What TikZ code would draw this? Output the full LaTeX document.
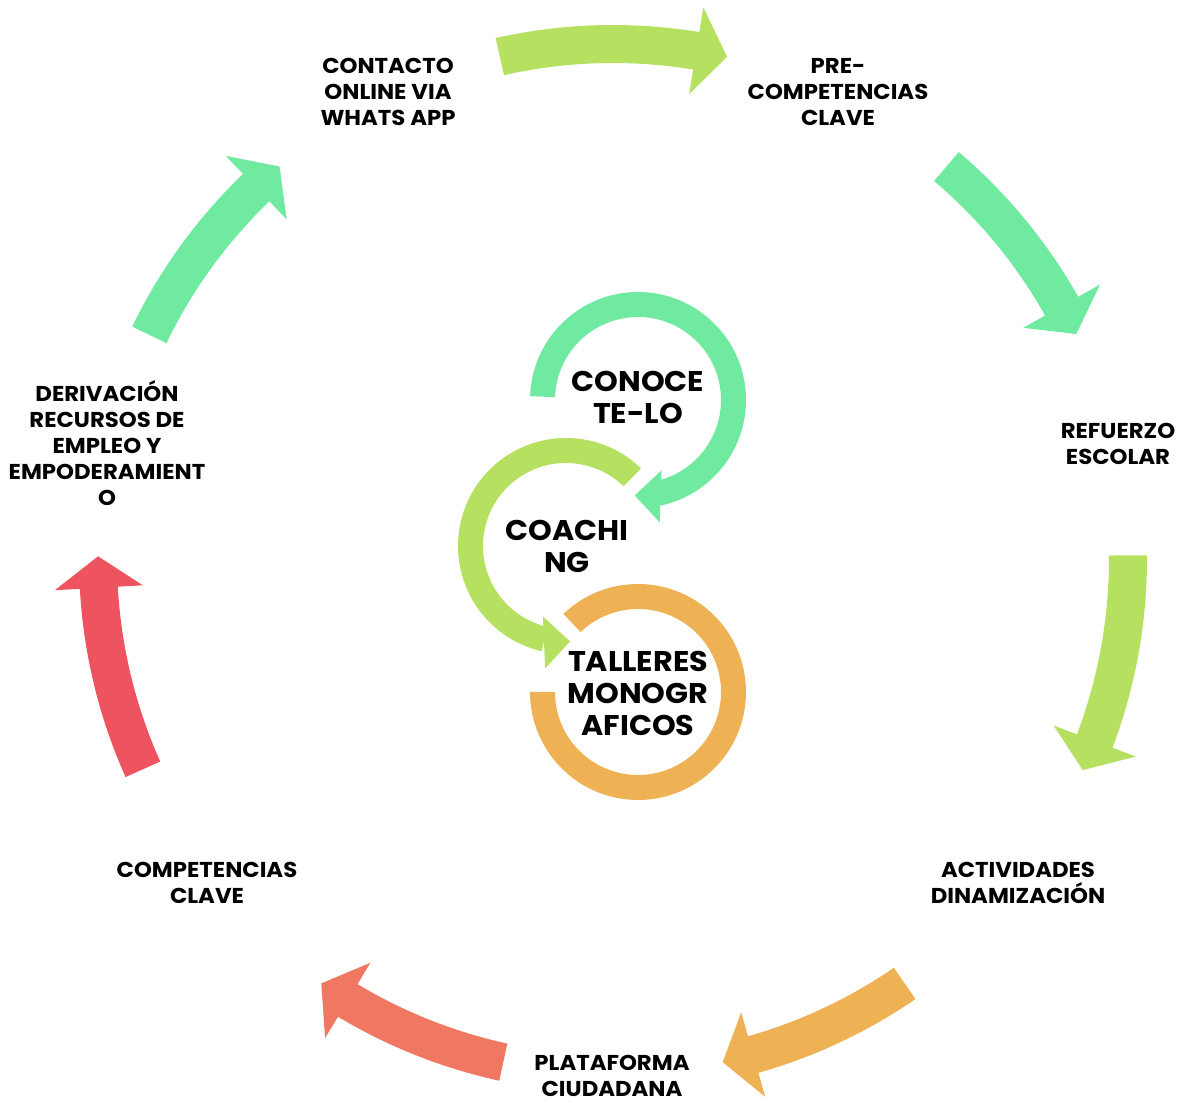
\documentclass[tikz,border=0pt]{standalone}
\usepackage{fontspec}
\setmainfont{Poppins}[FakeStretch=1.06]
\definecolor{cgreen}{RGB}{112,234,160}
\definecolor{cygreen}{RGB}{182,224,96}
\definecolor{corange}{RGB}{238,178,84}
\definecolor{csalmon}{RGB}{240,120,98}
\definecolor{cred}{RGB}{238,83,96}
\newcommand\outerarrow[3]{%
  \fill[#1] (#2:534) arc[start angle=#2, end angle={#3+3.5}, radius=534bp]
    -- ({#3+3.5}:559) -- (#3:515) -- ({#3+3.5}:471) -- ({#3+3.5}:496)
    arc[start angle={#3+3.5}, end angle=#2, radius=496bp] -- cycle;}
\tikzset{
  lbl/.style={align=center, inner sep=0pt, font=\fontsize{21.5bp}{26bp}\selectfont\bfseries},
  clbl/.style={align=center, inner sep=0pt, font=\fontsize{28.5bp}{32bp}\selectfont\bfseries}
}
\begin{document}
\begin{tikzpicture}[x=1bp, y=1bp]
\path[use as bounding box] (0,0) rectangle (1181,1103);
% outer cycle arrows
\begin{scope}[shift={(613,544)}]
  \coordinate (C) at (0,0);
  \outerarrow{cygreen}{102.7}{77.2}
  \outerarrow{cgreen}{49.65}{25.9}
  \outerarrow{cygreen}{0.4}{-24.2}
  \outerarrow{corange}{-55.5}{-77.7}
  \outerarrow{csalmon}{-102.3}{-124.5}
  \outerarrow{cred}{204.1}{179.7}
  \outerarrow{cgreen}{154.2}{130.35}
\end{scope}
% ring 1 (green, clockwise)
\begin{scope}[shift={(638,703)}]
  \fill[cgreen] (178:108) arc[start angle=178, end angle=-78, radius=108bp]
    -- (-78:83) arc[start angle=-78, end angle=178, radius=83bp] -- cycle;
  \fill[cgreen] (21.74,-122.33) -- (-3.33,-95.44) -- (23.56,-70.37) -- cycle;
\end{scope}
% ring 2 (yellow-green, counterclockwise)
\begin{scope}[shift={(566,557)}]
  \fill[cygreen] (46:108) arc[start angle=46, end angle=257, radius=108bp]
    -- (257:83) arc[start angle=257, end angle=46, radius=83bp] -- cycle;
  \fill[cygreen] (-20.89,-122.49) -- (4.0,-95.42) -- (-23.07,-70.53) -- cycle;
\end{scope}
% ring 3 (orange)
\begin{scope}[shift={(638,411)}]
  \fill[corange] (133.7:108) arc[start angle=133.7, end angle=-180, radius=108bp]
    -- (180:83) arc[start angle=-180, end angle=133.7, radius=83bp] -- cycle;
\end{scope}
% outer labels
\node[lbl] (contacto) at (388,1011) {CONTACTO\\ONLINE VIA\\WHATS APP};
\node[lbl] (pre) at (838,1011) {PRE-\\COMPETENCIAS\\CLAVE};
\node[lbl] (refuerzo) at (1118,659) {REFUERZO\\ESCOLAR};
\node[lbl] (actividades) at (1018,220) {ACTIVIDADES\\DINAMIZACIÓN};
\node[lbl] (plataforma) at (612,27) {PLATAFORMA\\CIUDADANA};
\node[lbl] (competencias) at (207,220) {COMPETENCIAS\\CLAVE};
\node[lbl] (derivacion) at (107,659.5) {DERIVACIÓN\\RECURSOS DE\\EMPLEO Y\\EMPODERAMIENT\\O};
% centre labels
\node[clbl] (conocete) at (638,706) {CONOCE\\TE-LO};
\node[clbl] (coaching) at (567,557) {COACHI\\NG};
\node[clbl] (talleres) at (638,409.5) {TALLERES\\MONOGR\\AFICOS};
\end{tikzpicture}
\end{document}
